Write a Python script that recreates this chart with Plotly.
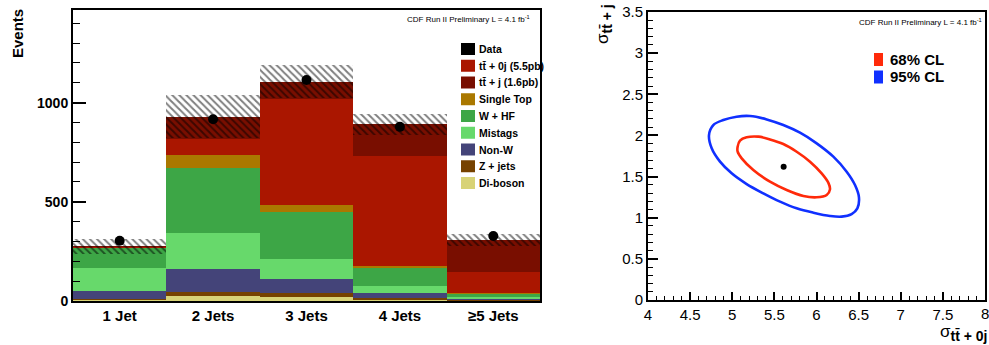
import numpy as np
import plotly.graph_objects as go

W, H = 989, 345

# ---------------- data: left panel (events per jet bin) ----------------
categories = ["1 Jet", "2 Jets", "3 Jets", "4 Jets", "≥5 Jets"]
diboson    = [7, 27, 20, 7, 2]
zjets      = [2, 17, 19, 6, 2]
nonw       = [41, 117, 72, 29, 11]
mistags    = [115, 182, 101, 33, 5]
whf        = [104, 329, 238, 95, 19]
single_top = [2, 64, 34, 6, 3]
tt0j       = [4, 80, 534, 555, 104]
ttj        = [2, 113, 87, 160, 161]
mc_unc     = [38, 108, 83, 52, 30]
data_evts  = [304, 916, 1114, 878, 328]

# stack order bottom -> top
stack_names = ["Di-boson", "Z + jets", "Non-W", "Mistags", "W + HF",
               "Single Top", "t\u0074\u0304 + 0j (5.5pb)", "t\u0074\u0304 + j (1.6pb)"]
stack_vals = [diboson, zjets, nonw, mistags, whf, single_top, tt0j, ttj]
stack_colors = ["#D8D377", "#764200", "#444479", "#67D96B", "#3DA646",
                "#AA7800", "#AA1600", "#790E00"]

legend_names = ["Data", "t\u0074\u0304 + 0j (5.5pb)", "t\u0074\u0304 + j (1.6pb)", "Single Top",
                "W + HF", "Mistags", "Non-W", "Z + jets", "Di-boson"]
legend_colors = ["#000000", "#AA1600", "#790E00", "#AA7800", "#3DA646",
                 "#67D96B", "#444479", "#764200", "#D8D377"]

# ---------------- data: right panel (contours) ----------------
best_fit_x = [5.61]
best_fit_y = [1.62]
cl68_x = [5.064, 5.092, 5.171, 5.310, 5.448, 5.606, 5.765, 5.923, 6.061, 6.140,
          6.160, 6.121, 6.002, 5.844, 5.646, 5.448, 5.250, 5.112, 5.064]
cl68_y = [1.863, 1.936, 1.977, 1.985, 1.952, 1.896, 1.802, 1.681, 1.539, 1.426,
          1.345, 1.276, 1.248, 1.264, 1.337, 1.438, 1.580, 1.721, 1.802]
cl95_x = [4.724, 4.775, 4.894, 5.052, 5.211, 5.409, 5.606, 5.804, 6.002, 6.200,
          6.358, 6.457, 6.504, 6.485, 6.417, 6.299, 6.160, 5.962, 5.764, 5.567,
          5.369, 5.171, 4.993, 4.855, 4.756]
cl95_y = [2.005, 2.126, 2.187, 2.228, 2.236, 2.195, 2.126, 2.033, 1.904, 1.742,
          1.559, 1.397, 1.248, 1.114, 1.045, 1.013, 1.021, 1.061, 1.114, 1.195,
          1.296, 1.409, 1.539, 1.681, 1.843]
x2_ticks = [4, 4.5, 5, 5.5, 6, 6.5, 7, 7.5, 8]


def px(x):
    return x / W


def py(y):
    return 1 - y / H


FONT = "Liberation Sans, Arial, sans-serif"
fig = go.Figure()

# stacked MC
base = np.zeros(len(categories))
for name, vals, col in zip(stack_names, stack_vals, stack_colors):
    v = np.array(vals, dtype=float)
    fig.add_trace(go.Bar(x=categories, y=v, base=base.copy(), name=name,
                         marker=dict(color=col, line=dict(width=0)), width=1.0,
                         showlegend=False, xaxis="x", yaxis="y"))
    base = base + v

total = base
unc = np.array(mc_unc, dtype=float)
fig.add_trace(go.Bar(x=categories, y=2 * unc, base=total - unc, width=1.0,
                     marker=dict(color="rgba(0,0,0,0)", line=dict(width=0),
                                 pattern=dict(shape="\\", fgcolor="black", size=5,
                                              solidity=0.4, fillmode="overlay")),
                     showlegend=False, xaxis="x", yaxis="y"))

fig.add_trace(go.Scatter(x=categories, y=data_evts, mode="markers",
                         marker=dict(color="black", size=10), showlegend=False,
                         xaxis="x", yaxis="y"))

# contours
fig.add_trace(go.Scatter(x=cl95_x + cl95_x[:1], y=cl95_y + cl95_y[:1], mode="lines",
                         line=dict(color="#1030FF", width=2.6, shape="spline", smoothing=1),
                         showlegend=False, xaxis="x2", yaxis="y2"))
fig.add_trace(go.Scatter(x=cl68_x + cl68_x[:1], y=cl68_y + cl68_y[:1], mode="lines",
                         line=dict(color="#FF2A0A", width=2.6, shape="spline", smoothing=1),
                         showlegend=False, xaxis="x2", yaxis="y2"))
fig.add_trace(go.Scatter(x=best_fit_x, y=best_fit_y, mode="markers",
                         marker=dict(color="black", size=6), showlegend=False,
                         xaxis="x2", yaxis="y2"))

axis_common = dict(showline=True, linecolor="black", linewidth=2, mirror=True,
                   showgrid=False, zeroline=False, automargin=False)

fig.update_layout(
    width=W, height=H, margin=dict(l=0, r=0, t=0, b=0, pad=0, autoexpand=False),
    paper_bgcolor="white", plot_bgcolor="white",
    barmode="overlay", bargap=0,
    font=dict(family=FONT, color="black"),
    xaxis=dict(domain=[px(73), px(540)], range=[-0.5, 4.5], type="category",
               categoryorder="array", categoryarray=categories,
               ticks="", tickfont=dict(size=15, weight="bold"), anchor="y",
               **axis_common),
    yaxis=dict(domain=[py(301), py(10)], range=[0, 1467], anchor="x",
               ticks="inside", ticklen=13, tickwidth=1.5, tickcolor="black",
               tickvals=[0, 500, 1000], ticktext=["0", "500", "1000"],
               tickfont=dict(size=14, weight="bold"),
               minor=dict(ticks="inside", ticklen=7, tickwidth=1, tickcolor="black",
                          dtick=100, showgrid=False),
               **axis_common),
    xaxis2=dict(domain=[px(648), px(985)], range=[4, 8], anchor="y2",
                ticks="inside", ticklen=8, tickwidth=1.5, tickcolor="black",
                tickvals=x2_ticks[:-1], ticktext=[f"{t:g}" for t in x2_ticks[:-1]],
                tickfont=dict(size=15),
                minor=dict(ticks="inside", ticklen=4, tickwidth=1, tickcolor="black",
                           dtick=0.1, showgrid=False),
                **axis_common),
    yaxis2=dict(domain=[py(300), py(12)], range=[0, 3.5], anchor="x2",
                ticks="inside", ticklen=10, tickwidth=1.5, tickcolor="black", dtick=0.5,
                tickfont=dict(size=15),
                minor=dict(ticks="inside", ticklen=5, tickwidth=1, tickcolor="black",
                           dtick=0.1, showgrid=False),
                **axis_common),
)

shapes = []
annotations = []

# label of the last major tick at x=8 (plotly drops the edge label)
annotations.append(dict(text=f"{x2_ticks[-1]:g}", xref="x2", yref="paper", x=x2_ticks[-1],
                        y=py(313.5), xanchor="center", yanchor="middle", showarrow=False,
                        font=dict(size=15, family=FONT)))

# left legend (built from legend lists)
for i, (name, col) in enumerate(zip(legend_names, legend_colors)):
    yc = 49 + 16.75 * i
    shapes.append(dict(type="rect", xref="paper", yref="paper",
                       x0=px(461), x1=px(475), y0=py(yc + 6), y1=py(yc - 6),
                       fillcolor=col, line=dict(width=0)))
    annotations.append(dict(text=name, xref="paper", yref="paper", x=px(477), y=py(yc),
                            xanchor="left", yanchor="middle", showarrow=False,
                            font=dict(size=10.5, family=FONT, weight="bold")))

# right legend
for i, (name, col) in enumerate(zip(["68% CL", "95% CL"], ["#FF2A0A", "#1030FF"])):
    yc = 59.5 + 17.5 * i
    shapes.append(dict(type="rect", xref="paper", yref="paper",
                       x0=px(874), x1=px(883), y0=py(yc + 6.5), y1=py(yc - 6.5),
                       fillcolor=col, line=dict(width=0)))
    annotations.append(dict(text=name, xref="paper", yref="paper", x=px(888), y=py(yc),
                            xanchor="left", yanchor="middle", showarrow=False,
                            font=dict(size=15, family=FONT, weight="bold")))

title_txt = "CDF Run II Preliminary L = 4.1 fb<sup>-1</sup>"
annotations.append(dict(text=title_txt, xref="paper", yref="paper", x=px(532), y=py(19),
                        xanchor="right", yanchor="middle", showarrow=False,
                        font=dict(size=8, family=FONT)))
annotations.append(dict(text=title_txt, xref="paper", yref="paper", x=px(984), y=py(22),
                        xanchor="right", yanchor="middle", showarrow=False,
                        font=dict(size=8, family=FONT)))
annotations.append(dict(text="Events", xref="paper", yref="paper", x=px(18), y=py(34),
                        xanchor="center", yanchor="middle", textangle=-90, showarrow=False,
                        font=dict(size=15, family=FONT, weight="bold")))
annotations.append(dict(text="σ<sub><span style='font-size:14px'><b>t\u0074\u0304 + j</b></span></sub>",
                        xref="paper", yref="paper",
                        x=px(604), y=py(24), xanchor="center", yanchor="middle",
                        textangle=-90, showarrow=False, font=dict(size=17, family=FONT)))
annotations.append(dict(text="σ<sub><span style='font-size:14px'><b>t\u0074\u0304 + 0j</b></span></sub>",
                        xref="paper", yref="paper",
                        x=px(989), y=py(333), xanchor="right", yanchor="middle",
                        showarrow=False, font=dict(size=17, family=FONT)))

fig.update_layout(shapes=shapes, annotations=annotations)
fig.write_html("out.html")
